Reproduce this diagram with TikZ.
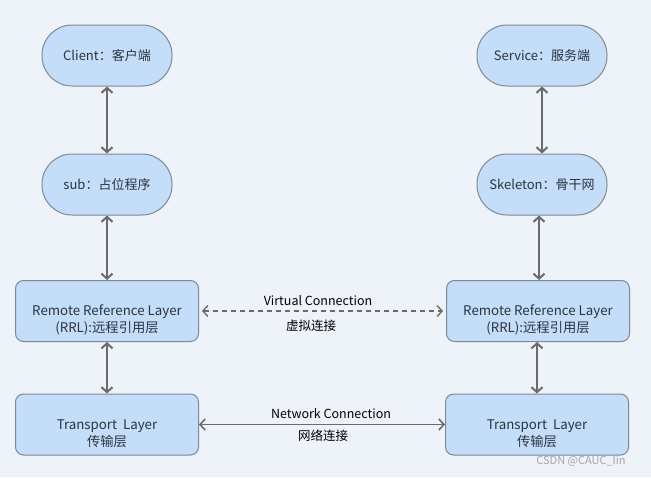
\documentclass[tikz,border=0pt]{standalone}
\usepackage{fontspec}
\setmainfont{Noto Sans CJK SC}
\usetikzlibrary{arrows.meta}
\definecolor{bg}{HTML}{EEF3FA}
\definecolor{nodefill}{HTML}{C4DDF8}
\definecolor{nodeline}{HTML}{7D8A96}
\definecolor{arr}{HTML}{6B6B6B}
\definecolor{txt}{HTML}{2B3440}
\tikzset{
  pill/.style={draw=nodeline, fill=nodefill, line width=1pt, rounded corners=30pt,
    minimum width=130pt, minimum height=61pt, inner sep=0pt, font=\fontsize{13}{15}\selectfont, text=txt},
  layerbox/.style={draw=nodeline, fill=nodefill, line width=1pt, rounded corners=8pt,
    minimum width=183pt, minimum height=61pt, inner sep=0pt},
  layertext/.style={align=center, inner sep=0pt, font=\fontsize{13.3}{17}\selectfont, text=txt},
  link/.style={draw=arr, line width=2pt, {Straight Barb[length=5pt,width=11pt]}-{Straight Barb[length=5pt,width=11pt]}},
  lbl/.style={font=\fontsize{12.5}{14}\selectfont, text=black, inner sep=0pt}
}
\begin{document}
\begin{tikzpicture}[x=1pt,y=-1pt]
\fill[bg] (0,0) rectangle (651,477);
\useasboundingbox (0,0) rectangle (651,477);

\node[pill] (client) at (107,55.5) {Client：客户端};
\node[pill] (sub) at (107,184.5) {sub：占位程序};
\node[pill] (service) at (542,55.5) {Service：服务端};
\node[pill] (skel) at (542,184.5) {Skeleton：骨干网};

\node[layerbox] (rrlL) at (107,311) {};
\node[layerbox] (trL) at (107,424.5) {};
\node[layerbox] (rrlR) at (538,311) {};
\node[layerbox] (trR) at (537,424.5) {};
\node[layertext] (rrlLt) at (107,320) {Remote Reference Layer\\(RRL):远程引用层};
\node[layertext] (trLt) at (107,433.5) {Transport\ \ Layer\\传输层};
\node[layertext] (rrlRt) at (538,320) {Remote Reference Layer\\(RRL):远程引用层};
\node[layertext] (trRt) at (537,433.5) {Transport\ \ Layer\\传输层};

\draw[link] (client.south) -- (sub.north);
\draw[link] (sub.south) -- (rrlL.north);
\draw[link] (rrlL.south) -- (trL.north);
\draw[link] (service.south) -- (service.south |- skel.north);
\draw[link] ([xshift=-3pt]skel.south) -- ([xshift=-3pt]skel.south |- rrlR.north);
\draw[link] ([xshift=-1pt]rrlR.south) -- ([xshift=-1pt]rrlR.south |- trR.north);

\draw[link, line width=1.4pt, dash pattern=on 5pt off 4pt] ([xshift=3pt]rrlL.east) -- ([xshift=-3pt]rrlR.west);
\draw[link, line width=1.6pt] (trL.east) -- (trR.west);

\node[lbl] (vc) at (318,301) {Virtual Connection};
\node[lbl] (vcz) at (311,326) {虚拟连接};
\node[lbl] (nc) at (331,414) {Network Connection};
\node[lbl] (ncz) at (323,436) {网络连接};

\node[font=\fontsize{11}{12}\selectfont, text=black!35] (wm) at (581,461) {CSDN @CAUC\_lin};
\end{tikzpicture}
\end{document}
